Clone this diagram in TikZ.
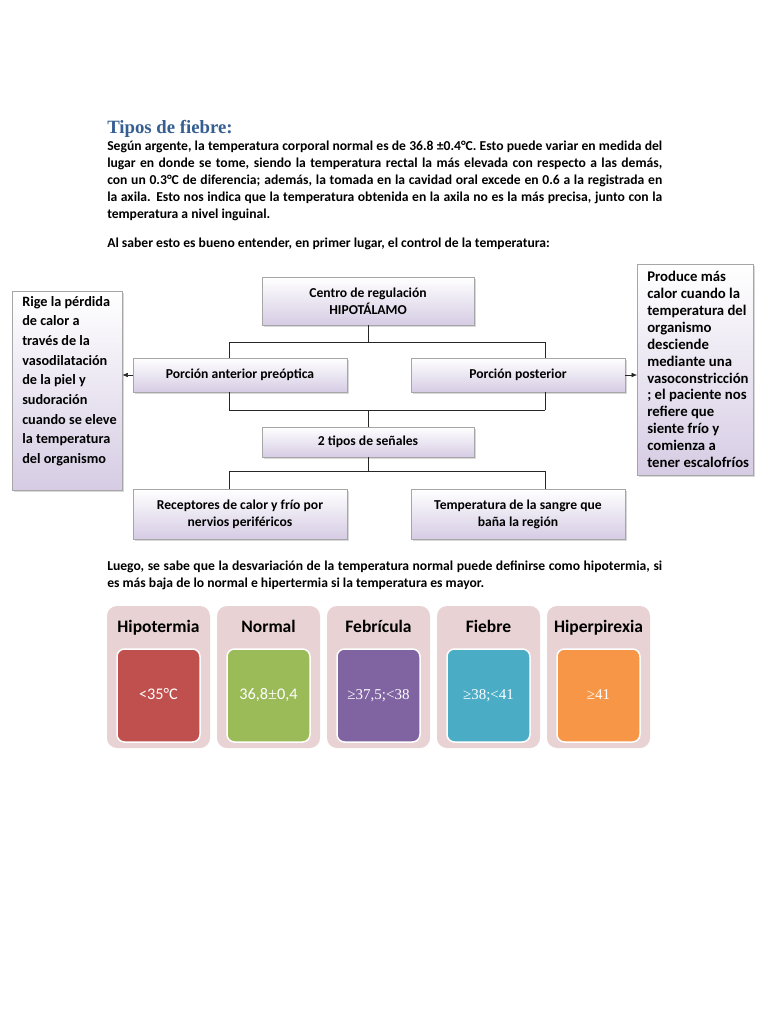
\documentclass[tikz,border=0pt]{standalone}
\usepackage{fontspec}
\setmainfont{Carlito}
\newfontfamily\headfont{Liberation Serif}
\newfontfamily\valfont{Liberation Serif}
\usetikzlibrary{arrows.meta,positioning,shadows,calc}
\definecolor{headblue}{HTML}{365F91}
\definecolor{boxedge}{HTML}{A6A6A6}
\definecolor{boxlav}{HTML}{D6CCE4}
\definecolor{cardbg}{HTML}{E8D2D4}
\definecolor{hipocol}{HTML}{C0504D}
\definecolor{normcol}{HTML}{9BBB59}
\definecolor{febcol}{HTML}{8064A2}
\definecolor{fiebcol}{HTML}{4BACC6}
\definecolor{hipercol}{HTML}{F79646}
\tikzset{
  regbox/.style={draw=boxedge,top color=white,bottom color=boxlav,minimum width=171.2pt,align=center,font=\fontsize{10.9}{13.6}\selectfont\bfseries,drop shadow={shadow xshift=1.2pt,shadow yshift=-1.2pt,opacity=.3}},
  notebox/.style={draw=boxedge,top color=white,bottom color=boxlav,anchor=north west,inner xsep=0pt,inner ysep=4pt,font=\bfseries,drop shadow={shadow xshift=1.2pt,shadow yshift=-1.2pt,opacity=.3}},
  link/.style={thin,black!85},
  arrow/.style={-{Latex[length=1.5mm,width=1.3mm]},thin,black!85},
  textblock/.style={anchor=north west,inner sep=0pt,font=\fontsize{10.9}{13.6}\selectfont\bfseries},
  cardnode/.style={fill=cardbg,rounded corners=8pt,minimum width=82.4pt,minimum height=113.6pt},
  valnode/.style={draw=white,line width=1.2pt,rounded corners=6pt,minimum width=66.4pt,minimum height=74.4pt,text=white,text height=9pt,text depth=2pt},
  cardtitle/.style={anchor=base,font=\fontsize{14}{16}\selectfont\bfseries}
}
\begin{document}
\begin{tikzpicture}[x=0.8pt,y=-0.8pt]
  \useasboundingbox[fill=white] (0,0) rectangle (768,1024);

  % Heading and text
  \node[anchor=north west,inner sep=0pt,text=headblue,font=\headfont\fontsize{15}{17}\selectfont\bfseries] (title) at (107,120) {Tipos de fiebre:};
  \node[textblock,text width=444pt,align=justify] (intro) at (107,141) {Según argente, la temperatura corporal normal es de 36.8 ±0.4°C. Esto puede variar en medida del\linebreak
    lugar en donde se tome, siendo la temperatura rectal la más elevada con respecto a las demás,\linebreak
    con un 0.3°C de diferencia; además, la tomada en la cavidad oral excede en 0.6 a la registrada en\linebreak
    la axila. Esto nos indica que la temperatura obtenida en la axila no es la más precisa, junto con la\linebreak
    temperatura a nivel inguinal.};
  \node[textblock] (saber) at (107,238) {Al saber esto es bueno entender, en primer lugar, el control de la temperatura:};

  % Regulation chart
  \node[regbox,minimum width=169.6pt,minimum height=38.4pt] (centro) at (368,301) {Centro de regulación\\HIPOTÁLAMO};
  \node[regbox,minimum height=27.2pt] (anterior) at (240,375) {Porción anterior preóptica};
  \node[regbox,minimum height=27.2pt] (posterior) at (518,375) {Porción posterior};
  \node[regbox,minimum width=169.6pt,minimum height=24pt] (senales) at (368,442) {2 tipos de señales};
  \node[regbox,minimum height=40pt] (receptores) at (240,514) {Receptores de calor y frío por\\nervios periféricos};
  \node[regbox,minimum height=40pt] (sangre) at (518,514) {Temperatura de la sangre que\\baña la región};

  \node[notebox] (rige) at (12,291) {\parbox[t][151pt][t]{88pt}{\raggedright\leftskip=8pt\fontsize{11.4}{15.7}\selectfont Rige la pérdida\\de calor a\\través de la\\vasodilatación\\de la piel y\\sudoración\\cuando se eleve\\la temperatura\\del organismo}};
  \node[notebox,inner ysep=5.8pt] (produce) at (637,264) {\parbox[t][157.2pt][t]{92.8pt}{\raggedright\leftskip=8pt\fontsize{11.8}{13.5}\selectfont Produce más\\calor cuando la\\temperatura del\\organismo\\desciende\\mediante una\\vasoconstricción\\; el paciente nos\\refiere que\\siente frío y\\comienza a\\tener escalofríos}};

  \coordinate (lx) at (229,0);
  \coordinate (rx) at (545,0);
  \draw[link] (centro.south) -- ++(0,17) coordinate (b1);
  \draw[link] (b1 -| lx) -- (b1 -| rx);
  \draw[link] (b1 -| lx) -- (anterior.north -| lx);
  \draw[link] (b1 -| rx) -- (posterior.north -| rx);
  \draw[link] (senales.north) -- ++(0,-17) coordinate (b2);
  \draw[link] (b2 -| lx) -- (b2 -| rx);
  \draw[link] (b2 -| lx) -- (anterior.south -| lx);
  \draw[link] (b2 -| rx) -- (posterior.south -| rx);
  \draw[link] (senales.south) -- ++(0,14) coordinate (b3);
  \draw[link] (b3 -| lx) -- (b3 -| rx);
  \draw[link] (b3 -| lx) -- (receptores.north -| lx);
  \draw[link] (b3 -| rx) -- (sangre.north -| rx);
  \draw[arrow] (anterior.west) -- (rige.east |- anterior.west);
  \draw[arrow] (posterior.east) -- (produce.west |- posterior.east);

  \node[textblock,text width=444pt,align=justify] (luego) at (107,561) {Luego, se sabe que la desvariación de la temperatura normal puede definirse como hipotermia, si\linebreak
    es más baja de lo normal e hipertermia si la temperatura es mayor.};

  % Fever ranges
  \foreach \i/\name/\col/\val in {0/Hipotermia/hipocol/{\fontsize{13}{15}\selectfont <35°C},
      1/Normal/normcol/{\fontsize{13}{15}\selectfont 36,8{\valfont ±}0,4},
      2/Febrícula/febcol/{\valfont\fontsize{12}{14}\selectfont ≥37,5;<38},
      3/Fiebre/fiebcol/{\valfont\fontsize{12}{14}\selectfont ≥38;<41},
      4/Hiperpirexia/hipercol/{\valfont\fontsize{12}{14}\selectfont ≥41}} {
    \node[cardnode] (card\i) at (158.5+110*\i,677) {};
    \node[cardtitle] (title\i) at (158.5+110*\i,632) {\name};
    \node[valnode,fill=\col] (val\i) at (158.5+110*\i,695.5) {\val};
  }
\end{tikzpicture}
\end{document}
